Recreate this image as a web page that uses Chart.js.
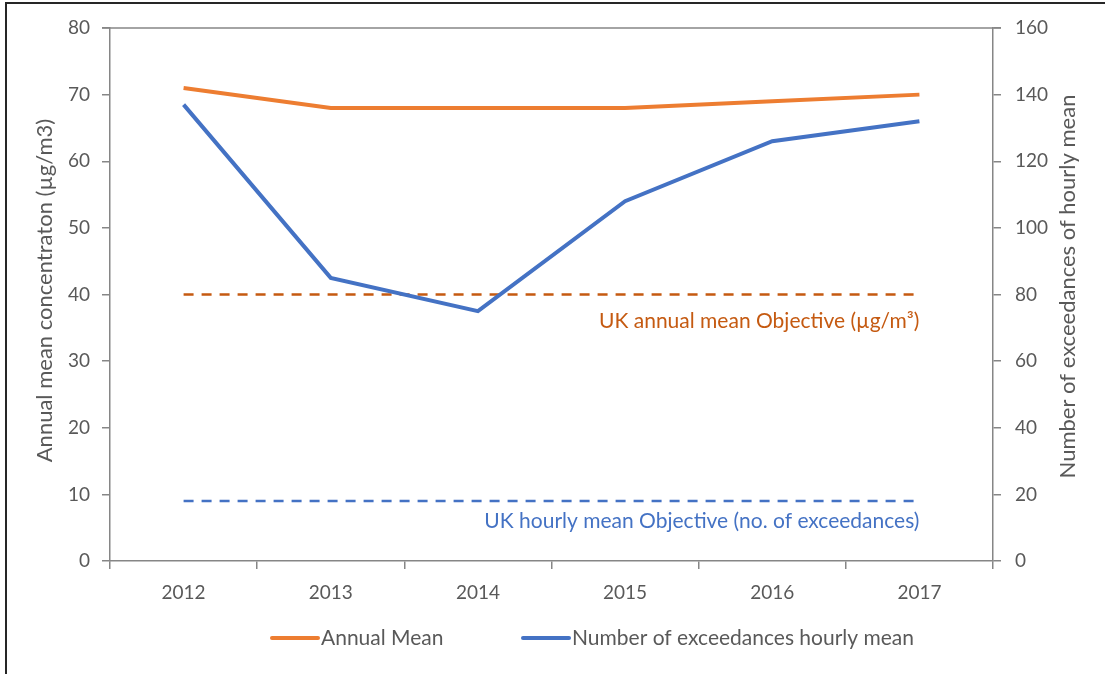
<!DOCTYPE html>
<html lang="en">
<head>
  <meta charset="UTF-8">
  <title>Annual Mean and Exceedances</title>
  <script src="https://cdn.jsdelivr.net/npm/chart.js"></script>
  <style>
    body { margin: 0; background: #fff; }
    .frame { position: absolute; left: 5px; top: 2px; width: 1200px; height: 700px;
             border-left: 2px solid #262626; border-top: 2px solid #262626; }
    .wrap { position: absolute; left: 0; top: 0; width: 1105px; height: 674px; }
  </style>
</head>
<body>
  <div class="frame"></div>
  <div class="wrap"><canvas id="chart" width="1105" height="674"></canvas></div>

  <script>
    // data
    const years = ['2012', '2013', '2014', '2015', '2016', '2017'];
    const annualMean = [71, 68, 68, 68, 69, 70];
    const exceedances = [137, 85, 75, 108, 126, 132];
    const annualObjective = [40, 40, 40, 40, 40, 40];   // left axis
    const hourlyObjective = [18, 18, 18, 18, 18, 18];   // right axis
    const leftTicks = [0, 10, 20, 30, 40, 50, 60, 70, 80];
    const rightTicks = [0, 20, 40, 60, 80, 100, 120, 140, 160];

    const FONT = 'Lato, "Open Sans", sans-serif';
    const GREY = '#595959';
    const AXIS = '#868686';

    // extra drawing: top border line, axis titles, objective labels, legend
    const extras = {
      id: 'extras',
      afterDraw(chart) {
        const ctx = chart.ctx;
        const a = chart.chartArea;
        const yL = chart.scales.y;
        const x = chart.scales.x;
        ctx.save();

        ctx.strokeStyle = AXIS;
        ctx.lineWidth = 1.5;
        ctx.beginPath();
        ctx.moveTo(a.left - 8, a.top);
        ctx.lineTo(a.right + 8, a.top);
        ctx.stroke();

        const midY = (a.top + a.bottom) / 2;
        ctx.fillStyle = GREY;
        ctx.font = '22px ' + FONT;
        ctx.textAlign = 'center';
        ctx.textBaseline = 'middle';
        ctx.translate(45, midY - 4);
        ctx.rotate(-Math.PI / 2);
        ctx.fillText('Annual mean concentraton (µg/m3)', 0, 0);
        ctx.setTransform(1, 0, 0, 1, 0, 0);
        ctx.translate(1068, midY - 8);
        ctx.rotate(-Math.PI / 2);
        ctx.fillText('Number of exceedances of hourly mean', 0, 0);
        ctx.setTransform(1, 0, 0, 1, 0, 0);

        const xEnd = x.getPixelForValue(years.length - 1);
        ctx.font = '21px ' + FONT;
        ctx.textAlign = 'right';
        ctx.fillStyle = '#C55A11';
        ctx.fillText('UK annual mean Objective (µg/m³)', xEnd, yL.getPixelForValue(36));
        ctx.fillStyle = '#4472C4';
        ctx.fillText('UK hourly mean Objective (no. of exceedances)', xEnd, yL.getPixelForValue(6));

        // legend
        const items = [
          { text: 'Annual Mean', color: '#ED7D31', x: 272 },
          { text: 'Number of exceedances hourly mean', color: '#4472C4', x: 523 }
        ];
        ctx.font = '21px ' + FONT;
        ctx.textAlign = 'left';
        ctx.fillStyle = GREY;
        items.forEach(it => {
          ctx.strokeStyle = it.color;
          ctx.lineWidth = 4;
          ctx.lineCap = 'round';
          ctx.beginPath();
          ctx.moveTo(it.x, 638);
          ctx.lineTo(it.x + 46, 638);
          ctx.stroke();
          ctx.fillText(it.text, it.x + 49, 638);
        });
        ctx.restore();
      }
    };

    function axisGrid() {
      return { drawOnChartArea: false, drawTicks: true, tickLength: 8, color: AXIS, lineWidth: 1.5 };
    }

    new Chart(document.getElementById('chart').getContext('2d'), {
      type: 'line',
      data: {
        labels: years,
        datasets: [
          { label: 'Number of exceedances hourly mean', data: exceedances, yAxisID: 'y2',
            borderColor: '#4472C4', borderWidth: 4, pointRadius: 0, tension: 0 },
          { label: 'Annual Mean', data: annualMean, yAxisID: 'y',
            borderColor: '#ED7D31', borderWidth: 4, pointRadius: 0, tension: 0 },
          { label: 'annual objective', data: annualObjective, yAxisID: 'y',
            borderColor: '#C55A11', borderWidth: 2.5, borderDash: [10, 8], pointRadius: 0 },
          { label: 'hourly objective', data: hourlyObjective, yAxisID: 'y2',
            borderColor: '#4472C4', borderWidth: 2.5, borderDash: [10, 8], pointRadius: 0 }
        ]
      },
      options: {
        responsive: false,
        animation: false,
        layout: { padding: { top: 28 } },
        plugins: { legend: { display: false }, tooltip: { enabled: false } },
        scales: {
          x: {
            offset: true,
            grid: Object.assign(axisGrid(), { offset: true }),
            border: { color: AXIS, width: 1.5 },
            ticks: { color: GREY, font: { family: FONT, size: 19 }, padding: 12, maxRotation: 0 },
            afterFit(s) { s.height = 113; }
          },
          y: {
            position: 'left', min: 0, max: 80,
            grid: axisGrid(),
            border: { color: AXIS, width: 1.5 },
            afterBuildTicks(s) { s.ticks = leftTicks.map(v => ({ value: v })); },
            ticks: { color: GREY, font: { family: FONT, size: 19 }, padding: 12 },
            afterFit(s) { s.width = 110; }
          },
          y2: {
            position: 'right', min: 0, max: 160,
            grid: axisGrid(),
            border: { color: AXIS, width: 1.5 },
            afterBuildTicks(s) { s.ticks = rightTicks.map(v => ({ value: v })); },
            ticks: { color: GREY, font: { family: FONT, size: 19 }, padding: 14 },
            afterFit(s) { s.width = 112; }
          }
        }
      },
      plugins: [extras]
    });
  </script>
</body>
</html>
